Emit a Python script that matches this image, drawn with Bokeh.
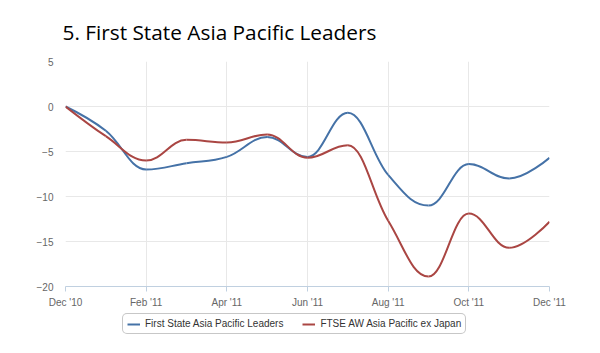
from bokeh.plotting import figure
from bokeh.layouts import column
from bokeh.models import Range1d, FixedTicker, Legend, LegendItem, ColumnDataSource
from bokeh.embed import file_html
from bokeh.resources import INLINE

months = ["Dec '10", "Jan '11", "Feb '11", "Mar '11", "Apr '11", "May '11", "Jun '11",
          "Jul '11", "Aug '11", "Sep '11", "Oct '11", "Nov '11", "Dec '11"]
leaders = [0, -2.7, -7.0, -6.3, -5.6, -3.4, -5.6, -0.7, -7.6, -11.0, -6.4, -8.0, -5.7]
ftse = [0, -3.3, -6.0, -3.7, -4.0, -3.1, -5.7, -4.3, -12.7, -18.9, -11.9, -15.7, -12.8]
series_names = ["First State Asia Pacific Leaders", "FTSE AW Asia Pacific ex Japan"]
colors = ["#4572A7", "#AA4643"]
y_ticks = [-20, -15, -10, -5, 0, 5]


def spline_segments(xs, ys, smoothing=1.5):
    """Highcharts-style spline control points -> bezier segments."""
    n = len(xs)
    denom = smoothing + 1
    left = [(xs[i], ys[i]) for i in range(n)]
    right = [(xs[i], ys[i]) for i in range(n)]
    for i in range(1, n - 1):
        px, py = xs[i], ys[i]
        lx, ly = xs[i - 1], ys[i - 1]
        nx, ny = xs[i + 1], ys[i + 1]
        lcx = (smoothing * px + lx) / denom
        lcy = (smoothing * py + ly) / denom
        rcx = (smoothing * px + nx) / denom
        rcy = (smoothing * py + ny) / denom
        corr = ((rcy - lcy) * (rcx - px)) / (rcx - lcx) + py - rcy
        lcy += corr
        rcy += corr
        if lcy > ly and lcy > py:
            lcy = max(ly, py); rcy = 2 * py - lcy
        elif lcy < ly and lcy < py:
            lcy = min(ly, py); rcy = 2 * py - lcy
        if rcy > ny and rcy > py:
            rcy = max(ny, py); lcy = 2 * py - rcy
        elif rcy < ny and rcy < py:
            rcy = min(ny, py); lcy = 2 * py - rcy
        left[i] = (lcx, lcy)
        right[i] = (rcx, rcy)
    d = dict(x0=[], y0=[], x1=[], y1=[], cx0=[], cy0=[], cx1=[], cy1=[])
    for i in range(1, n):
        d["x0"].append(xs[i - 1]); d["y0"].append(ys[i - 1])
        d["x1"].append(xs[i]); d["y1"].append(ys[i])
        d["cx0"].append(right[i - 1][0]); d["cy0"].append(right[i - 1][1])
        d["cx1"].append(left[i][0]); d["cy1"].append(left[i][1])
    return d


xs = list(range(len(months)))

p = figure(width=600, height=310, output_backend="svg", toolbar_location=None,
           x_range=Range1d(0, len(months) - 1), y_range=Range1d(-20, 5),
           min_border_left=65, min_border_right=51, min_border_top=61, min_border_bottom=24)
p.outline_line_color = None
p.background_fill_color = "white"
p.border_fill_color = "white"

# title
p.title.text = "5. First State Asia Pacific Leaders"
p.title.text_font = "Open Sans"
p.title.text_font_size = "20.8px"
p.title.text_font_style = "normal"
p.title.text_color = "#000000"
p.title.align = "left"
p.title.offset = -3
p.title.standoff = 31

for vals, c in zip([leaders, ftse], colors):
    src = ColumnDataSource(spline_segments(xs, vals))
    p.bezier(x0="x0", y0="y0", x1="x1", y1="y1", cx0="cx0", cy0="cy0",
             cx1="cx1", cy1="cy1", source=src, line_color=c, line_width=2)

# axes
p.xaxis.ticker = FixedTicker(ticks=xs[::2])
p.xaxis.major_label_overrides = {i: months[i] for i in xs[::2]}
p.xaxis.axis_line_color = "#C0D0E0"
p.xaxis.major_tick_line_color = "#C0D0E0"
p.xaxis.major_tick_out = 5
p.xaxis.major_tick_in = 0
p.xaxis.minor_tick_line_color = None
p.xaxis.major_label_standoff = 5

p.yaxis.ticker = FixedTicker(ticks=y_ticks)
p.yaxis.axis_line_color = None
p.yaxis.major_tick_line_color = None
p.yaxis.minor_tick_line_color = None
p.yaxis.major_tick_out = 0
p.yaxis.major_label_standoff = 12

for ax in [p.xaxis[0], p.yaxis[0]]:
    ax.major_label_text_font = "Liberation Sans"
    ax.major_label_text_font_size = "10px"
    ax.major_label_text_color = "#666666"

p.xgrid.ticker = FixedTicker(ticks=xs[::2])
p.xgrid.grid_line_color = "#e8e8e8"
p.ygrid.grid_line_color = "#e8e8e8"

# legend strip (separate small figure under the chart)
lf = figure(width=600, height=43, output_backend="svg", toolbar_location=None,
            x_range=Range1d(0, 600), y_range=Range1d(0, 43),
            min_border=0, x_axis_location=None, y_axis_location=None)
lf.outline_line_color = None
lf.grid.grid_line_color = None
lf.border_fill_color = "white"
items = []
for n, c in zip(series_names, colors):
    # legend-only renderer (no visible data)
    r = lf.line(x=[float("nan")], y=[float("nan")], line_color=c, line_width=2)
    items.append(LegendItem(label=n, renderers=[r]))

legend = Legend(items=items, orientation="horizontal", location=(57, 19))
legend.label_text_font = "Liberation Sans"
legend.label_text_font_size = "10px"
legend.label_text_color = "#333333"
legend.glyph_width = 13
legend.glyph_height = 10
legend.label_standoff = 5
legend.spacing = 19
legend.padding = 4
legend.margin = 0
legend.border_line_color = "#909090"
legend.border_radius = 5
legend.background_fill_alpha = 1
lf.add_layout(legend)

layout = column(p, lf, spacing=0)
open("out.html", "w").write(file_html(layout, INLINE))
